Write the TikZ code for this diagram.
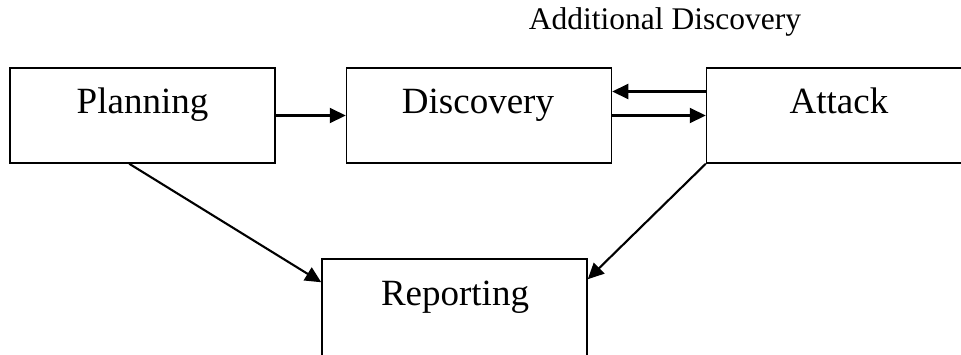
\documentclass[tikz,border=0pt]{standalone}
\usepackage{fontspec}
\setmainfont{Liberation Serif}
\usetikzlibrary{arrows.meta}
\begin{document}
\begin{tikzpicture}[x=1pt,y=-1pt,
  stage/.style={draw,line width=1.5pt,rectangle,minimum width=265pt,minimum height=95pt,inner sep=0pt},
  stagetext/.style={anchor=base,font=\fontsize{37}{40}\selectfont,inner sep=0pt},
  flow/.style={line width=2.1pt,-{Triangle[length=16pt,width=15pt]}}]
\useasboundingbox (0,0) rectangle (961,354);
\clip (0,0) rectangle (961,354);
% stage boxes
\node[stage] (plan) at (142.5,115.5) {};
\node[stage] (disc) at (479,115.5) {};
\node[stage] (att) at (839,115.5) {};
\node[stage,minimum height=110pt] (rep) at (454.5,314) {};
% stage names
\node[stagetext] (planT) at (142.5,113) {Planning};
\node[stagetext] (discT) at (478,113) {Discovery};
\node[stagetext] (attT) at (839,113) {Attack};
\node[stagetext] (repT) at (455,305) {Reporting};
\node[anchor=base,font=\fontsize{31.5}{34}\selectfont,inner sep=0pt] (addT) at (665,29) {Additional Discovery};
% connectors
\draw[flow] (plan.east) -- (disc.west);
\draw[flow] (disc.east) -- (att.west);
\draw[flow] ([yshift=24pt]att.west) -- ([yshift=24pt]disc.east);
\draw[flow] ([xshift=120pt]plan.south west) -- ([yshift=-24pt]rep.north west);
\draw[flow] (att.south west) -- ([yshift=-21pt]rep.north east);
\end{tikzpicture}
\end{document}
